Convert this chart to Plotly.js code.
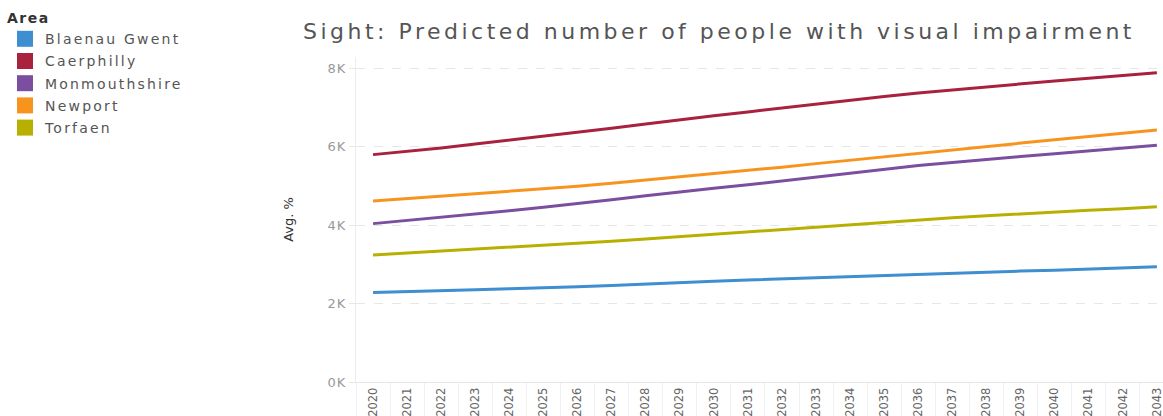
<!DOCTYPE html>
<html>
<head>
<meta charset="utf-8">
<script src="https://cdn.plot.ly/plotly-3.0.1.min.js"></script>
<style>
  html, body { margin: 0; padding: 0; background: #fff; }
  #chart { width: 1163px; height: 416px; }
  text.gtitle { letter-spacing: 3.5px; }
  text.legendtext { letter-spacing: 2.2px; }
  text.legendtitletext { letter-spacing: 1.5px; }
  .ytick text { letter-spacing: 1px; }
</style>
</head>
<body>
<div id="chart"></div>
<script>
const years = [2020, 2021, 2022, 2023, 2024, 2025, 2026, 2027, 2028, 2029, 2030, 2031,
               2032, 2033, 2034, 2035, 2036, 2037, 2038, 2039, 2040, 2041, 2042, 2043];
const yearLabels = years.map(String);

const areas = ["Blaenau Gwent", "Caerphilly", "Monmouthshire", "Newport", "Torfaen"];
const areaColors = ["#3E8ED0", "#A8213D", "#7B4EA0", "#F7941E", "#B8B000"];

const blaenauGwent = [2280, 2300, 2330, 2350, 2380, 2400, 2430, 2460, 2500, 2530, 2570, 2600,
                      2630, 2660, 2690, 2720, 2750, 2780, 2800, 2830, 2850, 2880, 2910, 2940];
const caerphilly   = [5800, 5880, 5970, 6070, 6170, 6270, 6360, 6470, 6580, 6690, 6790, 6890,
                      6990, 7090, 7190, 7280, 7370, 7450, 7530, 7600, 7680, 7750, 7820, 7890];
const monmouthshire= [4040, 4120, 4200, 4280, 4370, 4460, 4550, 4650, 4750, 4850, 4940, 5030,
                      5130, 5230, 5330, 5430, 5520, 5600, 5680, 5750, 5820, 5890, 5970, 6040];
const newport      = [4620, 4680, 4740, 4800, 4860, 4920, 4990, 5070, 5150, 5230, 5310, 5390,
                      5480, 5570, 5660, 5750, 5830, 5920, 6010, 6100, 6180, 6260, 6350, 6430];
const torfaen      = [3240, 3290, 3340, 3390, 3440, 3480, 3530, 3590, 3650, 3710, 3770, 3830,
                      3900, 3960, 4020, 4080, 4140, 4190, 4240, 4290, 4330, 4380, 4420, 4470];

const seriesValues = [blaenauGwent, caerphilly, monmouthshire, newport, torfaen];

const yTickVals = [0, 2000, 4000, 6000, 8000];
const yTickText = ["0K", "2K", "4K", "6K", "8K"];

const traces = [];
areas.forEach((name, i) => {
  traces.push({
    type: "scatter", mode: "lines", name: name,
    x: years, y: seriesValues[i],
    line: { color: areaColors[i], width: 3 },
    legendgroup: name, showlegend: false,
    hovertemplate: name + "<br>%{x}: %{y:,.0f}<extra></extra>"
  });
});
areas.forEach((name, i) => {
  traces.push({
    type: "scatter", mode: "markers", name: name,
    x: [null], y: [null],
    marker: { color: areaColors[i], symbol: "square", size: 16, line: { width: 0 } },
    legendgroup: name, showlegend: true, hoverinfo: "skip"
  });
});

const layout = {
  width: 1163, height: 416,
  margin: { l: 356, r: 0, t: 57, b: 34, pad: 0 },
  paper_bgcolor: "#ffffff", plot_bgcolor: "#ffffff",
  font: { family: "DejaVu Sans, Open Sans, sans-serif", color: "#555555", size: 13 },
  title: {
    text: "Sight: Predicted number of people with visual impairment",
    xref: "container", yref: "container",
    x: 303 / 1163, xanchor: "left",
    y: 1 - 31 / 416, yanchor: "middle",
    font: { size: 22, color: "#555555", family: "DejaVu Sans, sans-serif" }
  },
  showlegend: true,
  legend: {
    xref: "container", yref: "container",
    x: 5 / 1163, y: 1 - 5 / 416, xanchor: "left", yanchor: "top",
    title: { text: "<b>Area</b>", font: { size: 14, color: "#333333" } },
    font: { size: 14, color: "#555555" },
    tracegroupgap: 1,
    bgcolor: "rgba(0,0,0,0)", borderwidth: 0,
    itemclick: false, itemdoubleclick: false
  },
  xaxis: {
    type: "linear",
    range: [2019.5, 2043.18],
    tickvals: years, ticktext: yearLabels,
    tickangle: -90,
    tickfont: { size: 11.5, color: "#666666" },
    ticklabeloverflow: "allow",
    ticks: "", showgrid: false, zeroline: false,
    showline: true, linecolor: "#e6e6e6", linewidth: 1,
    minor: { tick0: 2019.5, dtick: 1, ticks: "outside", ticklen: 40, tickcolor: "#f0f0f0", tickwidth: 1, showgrid: false },
    fixedrange: true
  },
  yaxis: {
    range: [0, 8290],
    tickvals: yTickVals, ticktext: yTickText,
    tickfont: { size: 13, color: "#999999" },
    ticks: "outside", ticklen: 6, tickcolor: "#e8e8e8",
    showgrid: true, gridcolor: "#e6e6e6", griddash: "dash", gridwidth: 1,
    zeroline: false,
    showline: true, linecolor: "#ececec", linewidth: 1,
    title: { text: "Avg. %", font: { size: 13, color: "#333333" }, standoff: 31 },
    fixedrange: true
  }
};

Plotly.newPlot("chart", traces, layout, { displayModeBar: false, responsive: false });
</script>
</body>
</html>
